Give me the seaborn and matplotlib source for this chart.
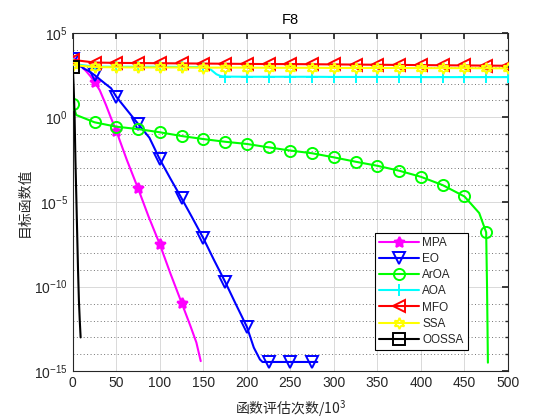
import numpy as np
import pandas as pd
import matplotlib
matplotlib.use("Agg")
import matplotlib.pyplot as plt
import seaborn as sns
from matplotlib.ticker import FixedLocator, NullFormatter, LogFormatterSciNotation

# ---------------- data (x in 10^3 evaluations, y as log10 of objective) ----------------
names = ["MPA", "EO", "ArOA", "AOA", "MFO", "SSA", "OOSSA"]

mpa_x = [0, 8, 15, 20, 25, 31, 38, 44, 50, 62, 75, 87, 100, 112, 125, 135, 142, 147]
mpa_y = [3.35, 3.10, 2.75, 2.45, 2.10, 1.60, 0.75, -0.05, -0.80, -2.50, -4.20, -5.85,
         -7.50, -9.20, -10.95, -12.30, -13.30, -14.40]

eo_x = [0, 6, 12, 18, 25, 37, 44, 50, 62, 75, 88, 100, 112, 125, 137, 150, 162, 175,
        187, 200, 208, 215, 218, 225, 250, 275, 281]
eo_y = [3.43, 3.20, 2.90, 2.75, 2.50, 2.00, 1.72, 1.22, 0.45, -0.38, -1.20, -2.48, -3.60,
        -4.78, -5.90, -7.14, -8.40, -9.71, -11.00, -12.37, -13.60, -14.30, -14.45,
        -14.45, -14.45, -14.45, -14.45]

aroa_x = [0, 4, 25, 50, 75, 100, 125, 150, 175, 200, 225, 250, 275, 300, 325, 350,
          375, 400, 425, 450, 467, 475, 476, 477]
aroa_y = [0.79, 0.14, -0.29, -0.55, -0.69, -0.88, -1.10, -1.28, -1.44, -1.57, -1.77,
          -1.96, -2.12, -2.36, -2.62, -2.86, -3.15, -3.51, -4.00, -4.67, -5.65, -6.79,
          -10.0, -14.49]

aoa_x = [0, 25, 50, 75, 100, 125, 150, 158, 165, 170, 175, 200, 225, 250, 275, 300,
         325, 350, 375, 400, 425, 450, 475, 500]
aoa_y = [3.15, 3.00, 2.99, 2.99, 2.99, 2.98, 2.97, 2.85, 2.55, 2.44, 2.41, 2.40, 2.40,
         2.40, 2.40, 2.39, 2.39, 2.39, 2.39, 2.38, 2.38, 2.38, 2.38, 2.38]

mfo_x = [0, 25, 50, 75, 100, 125, 150, 175, 200, 225, 250, 275, 300, 325, 350, 375,
         400, 425, 450, 475, 500]
mfo_y = [3.40, 3.24, 3.22, 3.21, 3.20, 3.19, 3.18, 3.17, 3.16, 3.15, 3.15, 3.14, 3.13,
         3.12, 3.11, 3.10, 3.09, 3.08, 3.07, 3.06, 3.05]

ssa_x = [0, 25, 50, 75, 100, 125, 150, 175, 200, 225, 250, 275, 300, 325, 350, 375,
         400, 425, 450, 475, 500]
ssa_y = [3.10, 2.97, 2.96, 2.95, 2.95, 2.95, 2.94, 2.94, 2.94, 2.93, 2.93, 2.93, 2.92,
         2.92, 2.92, 2.92, 2.91, 2.91, 2.91, 2.90, 2.90]

oossa_x = [0, 1, 2, 3, 4, 5, 6, 7, 8, 9]
oossa_y = [3.00, 1.80, 0.20, -2.50, -4.60, -6.80, -9.00, -10.80, -12.00, -13.00]

xticks = [0, 50, 100, 150, 200, 250, 300, 350, 400, 450, 500]
yticks = [1e-15, 1e-10, 1e-5, 1e0, 1e5]

series = [
    ("MPA", mpa_x, mpa_y, (1, 0, 1), (5, 1, 0), True),
    ("EO", eo_x, eo_y, (0, 0, 1), "v", False),
    ("ArOA", aroa_x, aroa_y, (0, 1, 0), "o", False),
    ("AOA", aoa_x, aoa_y, (0, 1, 1), "+", False),
    ("MFO", mfo_x, mfo_y, (1, 0, 0), "<", False),
    ("SSA", ssa_x, ssa_y, (1, 1, 0), (6, 1, 0), False),
    ("OOSSA", oossa_x, oossa_y, (0, 0, 0), "s", False),
]

# ---------------- style ----------------
sns.set_theme(style="white")
plt.rcParams["font.family"] = ["Liberation Sans", "Noto Sans CJK SC", "DejaVu Sans"]
plt.rcParams["mathtext.fontset"] = "custom"
plt.rcParams["mathtext.rm"] = "Liberation Sans"
plt.rcParams["mathtext.it"] = "Liberation Sans:italic"
plt.rcParams["mathtext.default"] = "regular"

fig = plt.figure(figsize=(5.6, 4.2), dpi=100)
ax = fig.add_axes([0.13, 0.116, 0.777, 0.806])
ax.set_yscale("log")

for name, xs, ys, col, mk, filled in series:
    df = pd.DataFrame({"x": xs, "y": np.power(10.0, ys)})
    mev = [i for i, v in enumerate(xs) if v % 25 == 0]
    sns.lineplot(data=df, x="x", y="y", ax=ax, color=col, linewidth=1.5,
                 marker=mk, markevery=mev, markersize=8 if mk not in ("+",) else 9,
                 markeredgecolor=col, markeredgewidth=1.4,
                 markerfacecolor=(col if filled else "none"),
                 label=name, sort=False, estimator=None, zorder=3)

ax.set_xlim(0, 500)
ax.set_ylim(1e-15, 1e5)
ax.xaxis.set_major_locator(FixedLocator(xticks))
ax.yaxis.set_major_locator(FixedLocator(yticks))
ax.yaxis.set_major_formatter(LogFormatterSciNotation())
minors = [10.0 ** k for k in range(-15, 6) if k % 5 != 0]
ax.yaxis.set_minor_locator(FixedLocator(minors))
ax.yaxis.set_minor_formatter(NullFormatter())

ax.grid(True, which="major", color=(0.85, 0.85, 0.85), linewidth=0.7, linestyle="-")
ax.grid(True, which="minor", axis="y", color=(0.45, 0.45, 0.45), linewidth=0.7,
        linestyle=(0, (1, 2.5)))
ax.set_axisbelow(True)

for s in ax.spines.values():
    s.set_visible(True)
    s.set_color((0.15, 0.15, 0.15))
    s.set_linewidth(0.8)
ax.tick_params(which="both", direction="in", top=True, right=True,
               colors=(0.15, 0.15, 0.15), labelsize=10)
ax.tick_params(which="major", length=4)
ax.tick_params(which="minor", length=2.5)

ax.set_title("F8", fontsize=10.5, color="black")
ax.set_xlabel("函数评估次数/10$^3$", fontsize=10, family=["Noto Sans CJK SC", "DejaVu Sans"],
              labelpad=6)
ax.set_ylabel("目标函数值", fontsize=10, family=["Noto Sans CJK SC", "DejaVu Sans"],
              labelpad=2)

leg = ax.legend(loc="lower right", bbox_to_anchor=(0.908, 0.063), fontsize=8.5,
                frameon=True, fancybox=False, edgecolor="black", framealpha=1,
                handlelength=3.4, labelspacing=0.35, borderpad=0.35,
                handletextpad=0.3, borderaxespad=0)
leg.get_frame().set_linewidth(0.8)

fig.savefig("out.png", dpi=100)
